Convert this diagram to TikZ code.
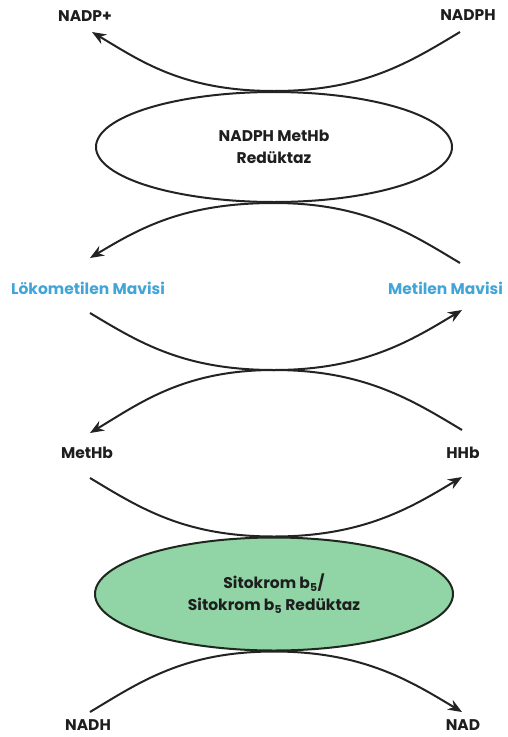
\documentclass[tikz,border=0pt]{standalone}
\usepackage{fontspec}
\setmainfont{Poppins}
\usetikzlibrary{shapes.geometric,arrows.meta,calc}
\definecolor{linec}{RGB}{35,35,35}
\definecolor{txtc}{RGB}{30,30,30}
\definecolor{mblue}{RGB}{65,165,215}
\definecolor{egreen}{RGB}{145,212,165}
\definecolor{eborder}{RGB}{30,40,30}
\tikzset{
  lbl/.style={font=\fontsize{15.5}{20}\selectfont\bfseries, text=txtc, inner sep=0pt},
  bluelbl/.style={lbl, text=mblue},
  enz/.style={ellipse, draw=linec, line width=2pt, minimum width=356pt, minimum height=110pt, inner sep=0pt, align=center, font=\fontsize{15.5}{22}\selectfont\bfseries, text=txtc},
  flowline/.style={draw=linec, line width=2pt},
  tip/.style={-{Stealth[length=14pt,width=11pt]}}
}
\begin{document}
\begin{tikzpicture}[x=1pt,y=-1pt]
\useasboundingbox (0,0) rectangle (507,737);
% labels
\node[lbl] (nadpp) at (85,16) {NADP+};
\node[lbl] (nadph) at (468,15) {NADPH};
\node[bluelbl, anchor=west] (lmb) at (11,288) {Lökometilen Mavisi};
\node[bluelbl, anchor=west] (mb) at (388,288) {Metilen Mavisi};
\node[lbl] (methb) at (87,453) {MetHb};
\node[lbl] (hhb) at (463,453) {HHb};
\node[lbl] (nadh) at (88,725) {NADH};
\node[lbl] (nad) at (463,725) {NAD};
% enzymes
\node[enz] (e1) at (274,147) {NADPH MetHb\\Redüktaz};
\node[enz, fill=egreen, draw=eborder, minimum width=358pt, minimum height=113pt] (e2) at (274,594) {Sitokrom b\textsubscript{5}/\\Sitokrom b\textsubscript{5} Redüktaz};
\coordinate (x) at (274,370);
% curve end points
\coordinate (p1) at ($(nadph)+(-8,17)$);
\coordinate (p2) at ($(nadpp)+(7,16)$);
\coordinate (p3) at ($(mb.west)+(72,-25)$);
\coordinate (p4) at ($(lmb.west)+(79,-30)$);
\coordinate (p5) at ($(lmb.west)+(79,25)$);
\coordinate (p6) at ($(mb.west)+(74,22)$);
\coordinate (p7) at ($(hhb)+(-1,-23)$);
\coordinate (p8) at ($(methb)+(3,-20)$);
\coordinate (p9) at ($(methb)+(3,25)$);
\coordinate (p10) at ($(hhb)+(-1,24)$);
\coordinate (p11) at ($(nadh)+(2,-13)$);
\coordinate (p12) at ($(nad)+(-1,-13)$);
% curves
\draw[flowline, tip] (p1) .. controls +(-50,30) and +(90,0) .. (e1.north)
   .. controls +(-90,0) and +(50,30) .. (p2);
\draw[flowline, tip] (p3) .. controls +(-50,-30) and +(90,0) .. (e1.south)
   .. controls +(-90,0) and +(50,-30) .. (p4);
\draw[flowline, tip] (p5) .. controls +(50,30) and +(-90,0) .. (x)
   .. controls +(90,0) and +(-50,30) .. (p6);
\draw[flowline, tip] (p7) .. controls +(-50,-30) and +(90,0) .. (x)
   .. controls +(-90,0) and +(50,-30) .. (p8);
\draw[flowline, tip] (p9) .. controls +(50,30) and +(-90,0) .. (e2.north)
   .. controls +(90,0) and +(-50,30) .. (p10);
\draw[flowline, tip] (p11) .. controls +(50,-30) and +(-90,0) .. (e2.south)
   .. controls +(90,0) and +(-50,-30) .. (p12);
\end{tikzpicture}
\end{document}
